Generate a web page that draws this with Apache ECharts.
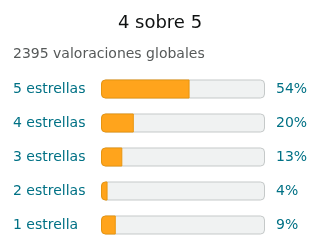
<!DOCTYPE html>
<html>
<head>
<meta charset="utf-8">
<style>html,body{margin:0;padding:0;background:#fff}#c{width:320px;height:252px}</style>
<script src="https://cdn.jsdelivr.net/npm/echarts@6/dist/echarts.min.js"></script>
</head>
<body>
<div id="c"></div>
<script>
const titleText = "4 sobre 5";
const subtitleText = "2395 valoraciones globales";
const categories = ["5 estrellas", "4 estrellas", "3 estrellas", "2 estrellas", "1 estrella"];
const percents = [54, 20, 13, 4, 9];
const trackMax = [100, 100, 100, 100, 100];

const chart = echarts.init(document.getElementById('c'), null, {renderer: 'canvas'});
const font = 'DejaVu Sans';
chart.setOption({
  animation: false,
  backgroundColor: '#ffffff',
  title: [
    {text: titleText, left: 'center', top: 9, textStyle: {fontFamily: font, fontSize: 18, fontWeight: 'normal', color: '#0F1111'}},
    {text: subtitleText, left: 8, top: 42, textStyle: {fontFamily: font, fontSize: 14, fontWeight: 'normal', color: '#565959'}}
  ],
  grid: {left: 101, right: 55, top: 72, bottom: 10},
  xAxis: {type: 'value', min: 0, max: 100, show: false},
  yAxis: {
    type: 'category', data: categories, inverse: true,
    axisLine: {show: false}, axisTick: {show: false}, splitLine: {show: false},
    axisLabel: {align: 'left', margin: 88, fontFamily: font, fontSize: 14, color: '#007185'}
  },
  series: [
    {
      type: 'bar', data: trackMax, barWidth: 19, barGap: '-100%', silent: true, z: 1,
      itemStyle: {color: '#F0F2F2', borderColor: '#C5C9C9', borderWidth: 1, borderRadius: 4},
      label: {show: true, position: 'right', distance: 11, fontFamily: font, fontSize: 14, color: '#007185',
        formatter: p => percents[p.dataIndex] + '%'}
    },
    {
      type: 'bar', data: percents, barWidth: 19, barGap: '-100%', z: 2,
      itemStyle: {color: '#FFA41C', borderColor: '#E8950F', borderWidth: 1, borderRadius: [4, 0, 0, 4]}
    }
  ]
});
</script>
</body>
</html>
